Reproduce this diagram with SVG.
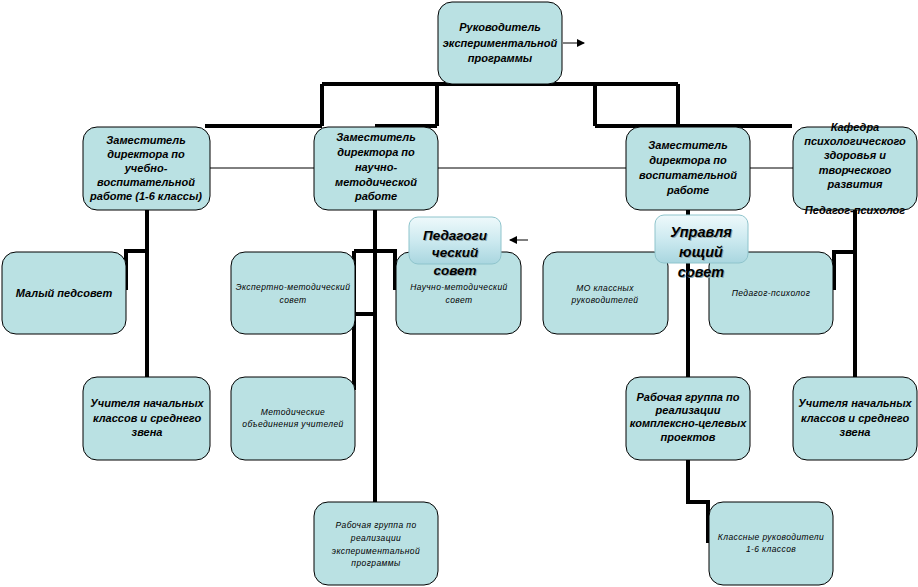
<svg xmlns="http://www.w3.org/2000/svg" width="918" height="587" viewBox="0 0 918 587">
<defs>
<style>
.box{fill:#bae1e3;stroke:#000;stroke-width:1}
.gl{stroke:#8fc4cc;stroke-width:1}
.b{font-family:"Liberation Sans",Arial,sans-serif;font-weight:bold;font-style:italic;font-size:11px;text-anchor:middle;fill:#000}
.s{font-family:"Liberation Sans",Arial,sans-serif;font-style:italic;font-size:8.5px;text-anchor:middle;fill:#000;letter-spacing:0.4px}
.big{font-family:"Liberation Sans",Arial,sans-serif;font-weight:bold;font-style:italic;font-size:13.5px;text-anchor:middle;fill:#000}
.sh{fill:#8fa9ae}
.thick{fill:none;stroke:#000;stroke-width:4}
.thin{fill:none;stroke:#000;stroke-width:1}
</style>
<linearGradient id="gloss" x1="0" y1="0" x2="0" y2="1">
<stop offset="0" stop-color="#eef9fb"/>
<stop offset="0.5" stop-color="#cdeaf0"/>
<stop offset="1" stop-color="#a9d6df"/>
</linearGradient>
<marker id="ah" markerWidth="8" markerHeight="8" refX="7" refY="4" orient="auto" markerUnits="userSpaceOnUse">
<path d="M0,0 L8,4 L0,8 Z" fill="#000"/>
</marker>
</defs>
<rect width="918" height="587" fill="#fff"/>

<g id="connectors">
<path class="thin" d="M210,168 H314 M438,168 H626 M750,168 H793"/>
<path class="thick" d="M322,84 H678 M322,84 V126 M437,84 V126 M595,84 V126 M678,84 V126 M205,126 H322 M375,126 H437 M595,126 H792"/>
<path class="thick" d="M147,210 V377 M147,251 H126 V290"/>
<path class="thick" d="M375,210 V502 M354,251 H395 V290 M354,251 V390 M354,314 H375"/>
<path class="thick" d="M688,210 V377 M688,460 V502 H708 V543"/>
<path class="thick" d="M855,210 V377 M855,252 H834 V290"/>
<path class="thin" d="M563,43 H584" marker-end="url(#ah)"/>
<path class="thin" d="M528,240 H510" marker-end="url(#ah)"/>
</g>

<g id="n-head">
<rect class="box" x="438" y="2" width="124" height="82" rx="14"/>
<text class="b" x="500" y="31">Руководитель</text>
<text class="b" x="500" y="47">экспериментальной</text>
<text class="b" x="500" y="62">программы</text>
</g>

<g id="n-zam-uvr">
<rect class="box" x="83" y="127" width="127" height="83" rx="14"/>
<text class="b" x="146" y="144">Заместитель</text>
<text class="b" x="146" y="158">директора по</text>
<text class="b" x="146" y="172">учебно-</text>
<text class="b" x="146" y="186">воспитательной</text>
<text class="b" x="146" y="200">работе (1-6 классы)</text>
</g>

<g id="n-zam-nmr">
<rect class="box" x="314" y="127" width="124" height="83" rx="14"/>
<text class="b" x="376" y="141">Заместитель</text>
<text class="b" x="376" y="156">директора по</text>
<text class="b" x="376" y="171">научно-</text>
<text class="b" x="376" y="186">методической</text>
<text class="b" x="376" y="200">работе</text>
</g>

<g id="n-zam-vr">
<rect class="box" x="626" y="127" width="124" height="83" rx="14"/>
<text class="b" x="688" y="149">Заместитель</text>
<text class="b" x="688" y="164">директора по</text>
<text class="b" x="688" y="179">воспитательной</text>
<text class="b" x="688" y="194">работе</text>
</g>

<g id="n-kafedra">
<rect class="box" x="793" y="127" width="124" height="83" rx="14"/>
<text class="b" x="855" y="131">Кафедра</text>
<text class="b" x="855" y="145">психологического</text>
<text class="b" x="855" y="159">здоровья и</text>
<text class="b" x="855" y="174">творческого</text>
<text class="b" x="855" y="188">развития</text>
<text class="b" x="855" y="214">Педагог-психолог</text>
</g>

<g id="n-maly">
<rect class="box" x="2" y="252" width="124" height="82" rx="14"/>
<text class="b" x="64" y="297">Малый педсовет</text>
</g>

<g id="n-uchitelya-l">
<rect class="box" x="83" y="377" width="127" height="83" rx="14"/>
<text class="b" x="147" y="407">Учителя начальных</text>
<text class="b" x="147" y="422">классов и среднего</text>
<text class="b" x="147" y="436">звена</text>
</g>

<g id="n-ekspert">
<rect class="box" x="231" y="252" width="124" height="82" rx="14"/>
<text class="s" x="293" y="290">Экспертно-методический</text>
<text class="s" x="293" y="303">совет</text>
</g>

<g id="n-nauchno">
<rect class="box" x="396" y="252" width="125" height="82" rx="14"/>
<text class="s" x="459" y="290">Научно-методический</text>
<text class="s" x="459" y="303">совет</text>
</g>

<g id="n-metod">
<rect class="box" x="231" y="377" width="124" height="83" rx="14"/>
<text class="s" x="293" y="415">Методические</text>
<text class="s" x="293" y="427">объединения учителей</text>
</g>

<g id="n-rab-eksp">
<rect class="box" x="314" y="502" width="124" height="83" rx="14"/>
<text class="s" x="376" y="528">Рабочая группа по</text>
<text class="s" x="376" y="541">реализации</text>
<text class="s" x="376" y="554">экспериментальной</text>
<text class="s" x="376" y="566">программы</text>
</g>

<g id="n-mo">
<rect class="box" x="543" y="252" width="125" height="82" rx="14"/>
<text class="s" x="605" y="291">МО классных</text>
<text class="s" x="605" y="303">руководителей</text>
</g>

<g id="n-psiholog">
<rect class="box" x="709" y="252" width="124" height="82" rx="14"/>
<text class="s" x="771" y="296">Педагог-психолог</text>
</g>

<g id="n-rab-kcp">
<rect class="box" x="626" y="377" width="124" height="83" rx="14"/>
<text class="b" x="688" y="401">Рабочая группа по</text>
<text class="b" x="688" y="414">реализации</text>
<text class="b" x="688" y="427">комплексно-целевых</text>
<text class="b" x="688" y="441">проектов</text>
</g>

<g id="n-uchitelya-r">
<rect class="box" x="793" y="377" width="124" height="83" rx="14"/>
<text class="b" x="855" y="407">Учителя начальных</text>
<text class="b" x="855" y="422">классов и среднего</text>
<text class="b" x="855" y="436">звена</text>
</g>

<g id="n-klassnye">
<rect class="box" x="709" y="502" width="124" height="83" rx="14"/>
<text class="s" x="771" y="540">Классные руководители</text>
<text class="s" x="771" y="552">1-6 классов</text>
</g>

<g id="n-pedsovet">
<rect class="gl" x="409" y="217" width="92" height="47" rx="9" fill="url(#gloss)"/>
<text class="big sh" x="456" y="241">Педагоги</text>
<text class="big sh" x="456" y="258">ческий</text>
<text class="big sh" x="456" y="276">совет</text>
<text class="big" x="455" y="240">Педагоги</text>
<text class="big" x="455" y="257">ческий</text>
<text class="big" x="455" y="275">совет</text>
</g>

<g id="n-upravl">
<rect class="gl" x="655" y="215" width="93" height="48" rx="9" fill="url(#gloss)"/>
<text class="big sh" x="702" y="238" style="font-size:14.5px">Управля</text>
<text class="big sh" x="702" y="258" style="font-size:14.5px">ющий</text>
<text class="big sh" x="702" y="278" style="font-size:14.5px">совет</text>
<text class="big" x="701" y="237" style="font-size:14.5px">Управля</text>
<text class="big" x="701" y="257" style="font-size:14.5px">ющий</text>
<text class="big" x="701" y="277" style="font-size:14.5px">совет</text>
</g>
</svg>
